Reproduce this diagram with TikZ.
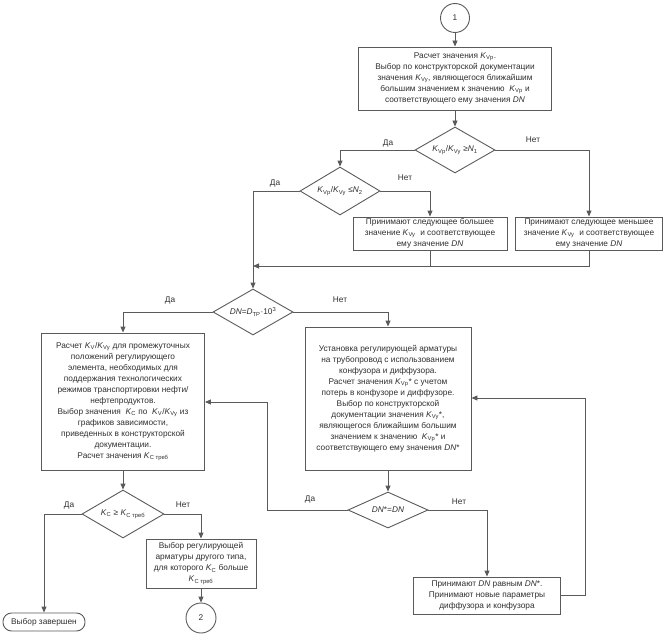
\documentclass[tikz,border=0pt]{standalone}
\usepackage{fontspec}
\setmainfont{Liberation Sans}
\usetikzlibrary{shapes.geometric,arrows.meta}
\definecolor{lc}{HTML}{5A5A5A}
\definecolor{tc}{HTML}{303030}
\newcommand{\Kv}[1]{\textit{K}\textsubscript{#1}}
\newcommand{\fs}{\fontsize{8.3pt}{11pt}\selectfont}
\tikzset{
  conn/.style={draw=lc, line width=0.9pt},
  arr/.style={conn, -{Triangle[length=6pt,width=5pt]}},
  box/.style={draw=lc, line width=0.9pt, fill=white, align=center, inner sep=1pt, text=tc, font=\fs, rectangle},
  dia/.style={diamond, draw=lc, line width=0.9pt, fill=white, inner sep=0pt, text=tc, font=\fs},
  circ/.style={circle, draw=lc, line width=0.9pt, fill=white, inner sep=0pt, text=tc, font=\fs, minimum size=29pt},
  term/.style={rectangle, rounded corners=8.5pt, draw=lc, line width=0.9pt, fill=white, inner sep=0pt, text=tc, font=\fs},
  lbl/.style={text=tc, font=\fs, inner sep=0pt}
}
\begin{document}
\begin{tikzpicture}[x=1pt,y=-1pt]
\useasboundingbox (0,0) rectangle (667,634);
% nodes
\node[circ] (c1) at (455,18) {1};
\node[box, minimum width=193pt, minimum height=63pt] (b1) at (455,78.5)
 {Расчет значения \Kv{Vp}.\\Выбор по конструкторской документации\\значения \Kv{Vy}, являющегося ближайшим\\большим значением к значению \ \Kv{Vp} и\\соответствующего ему значения \textit{DN}};
\node[dia, minimum width=80pt, minimum height=46pt] (d1) at (455,150)
 {\makebox[0pt]{\Kv{Vp}/\Kv{Vy} ≥\textit{N}\textsubscript{1}}};
\node[dia, minimum width=80pt, minimum height=48pt] (d2) at (340,191)
 {\makebox[0pt]{\Kv{Vp}/\Kv{Vy} ≤\textit{N}\textsubscript{2}}};
\node[box, minimum width=154pt, minimum height=33pt] (b2) at (430,233.5)
 {Принимают следующее большее\\значение \Kv{Vy} \ и соответствующее\\ему значение \textit{DN}};
\node[box, minimum width=147pt, minimum height=33pt] (b3) at (589,233.5)
 {Принимают следующее меньшее\\значение \Kv{Vy} \ и соответствующее\\ему значение \textit{DN}};
\coordinate (mrg) at (253,266);
\node[dia, minimum width=80pt, minimum height=46pt] (d3) at (253,312)
 {\makebox[0pt]{\textit{DN}=\textit{D}\textsubscript{ТР}·10\textsuperscript{3}}};
\node[box, minimum width=163pt, minimum height=137pt] (b4) at (123,401.5)
 {Расчет \Kv{V}/\Kv{Vy} для промежуточных\\положений регулирующего\\элемента, необходимых для\\поддержания технологических\\режимов транспортировки нефти/\\нефтепродуктов.\\Выбор значения \ \Kv{C} по \ \Kv{V}/\Kv{Vy} из\\графиков зависимости,\\приведенных в конструкторской\\документации.\\Расчет значения \Kv{C треб}};
\node[box, minimum width=166pt, minimum height=143pt] (b5) at (388,398.5)
 {Установка регулирующей арматуры\\на трубопровод с использованием\\конфузора и диффузора.\\Расчет значения \Kv{Vp}* с учетом\\потерь в конфузоре и диффузоре.\\Выбор по конструкторской\\документации значения \Kv{Vy}*,\\являющегося ближайшим большим\\значением к значению \ \Kv{Vp}* и\\соответствующего ему значения \textit{DN}*};
\node[dia, minimum width=82pt, minimum height=48pt] (d4) at (123,514)
 {\makebox[0pt]{\Kv{C} ≥ \Kv{C треб}}};
\node[box, minimum width=110pt, minimum height=49pt] (b6) at (201,563.5)
 {Выбор регулирующей\\арматуры другого типа,\\для которого \Kv{C} больше\\\Kv{C треб}};
\node[circ, minimum size=30pt] (c2) at (201,618) {2};
\node[term, minimum width=82pt, minimum height=18pt] (t) at (44,622) {Выбор завершен};
\node[dia, minimum width=80pt, minimum height=36pt] (d5) at (388,510)
 {\makebox[0pt]{\textit{DN}*=\textit{DN}}};
\node[box, minimum width=147pt, minimum height=37pt] (b7) at (487,595.5)
 {Принимают \textit{DN} равным \textit{DN}*.\\Принимают новые параметры\\диффузора и конфузора};
\coordinate (fb1) at (267,402);
\coordinate (fb2) at (585,398);
% connectors
\draw[arr] (c1) -- (b1);
\draw[arr] (b1) -- (d1);
\draw[arr] (d1.west) -| (d2.north);
\draw[arr] (d1.east) -| (b3.north);
\draw[arr] (d2.east) -| (b2.north);
\draw[arr] (d2.west) -| (d3.north);
\draw[conn] (b2.south) -- (b2.south |- mrg);
\draw[arr] (b3.south) |- (mrg);
\draw[arr] (d3.west) -| (b4.north);
\draw[arr] (d3.east) -| (b5.north);
\draw[arr] (b4) -- (d4);
\draw[arr] (d4.west) -| (t.north);
\draw[arr] (d4.east) -| (b6.north);
\draw[arr] (b6) -- (c2);
\draw[arr] (b5) -- (d5);
\draw[arr] (d5.west) -| (fb1) -- (fb1 -| b4.east);
\draw[arr] (d5.east) -| (b7.north);
\draw[arr] (b7.east) -| (fb2) -- (fb2 -| b5.east);
% labels
\node[lbl] at (388,143) {Да};
\node[lbl] at (533,140) {Нет};
\node[lbl] at (275,183) {Да};
\node[lbl] at (405,178) {Нет};
\node[lbl] at (170,300) {Да};
\node[lbl] at (340,300) {Нет};
\node[lbl] at (69,505) {Да};
\node[lbl] at (183,505) {Нет};
\node[lbl] at (310,499) {Да};
\node[lbl] at (459,502) {Нет};
\end{tikzpicture}
\end{document}
